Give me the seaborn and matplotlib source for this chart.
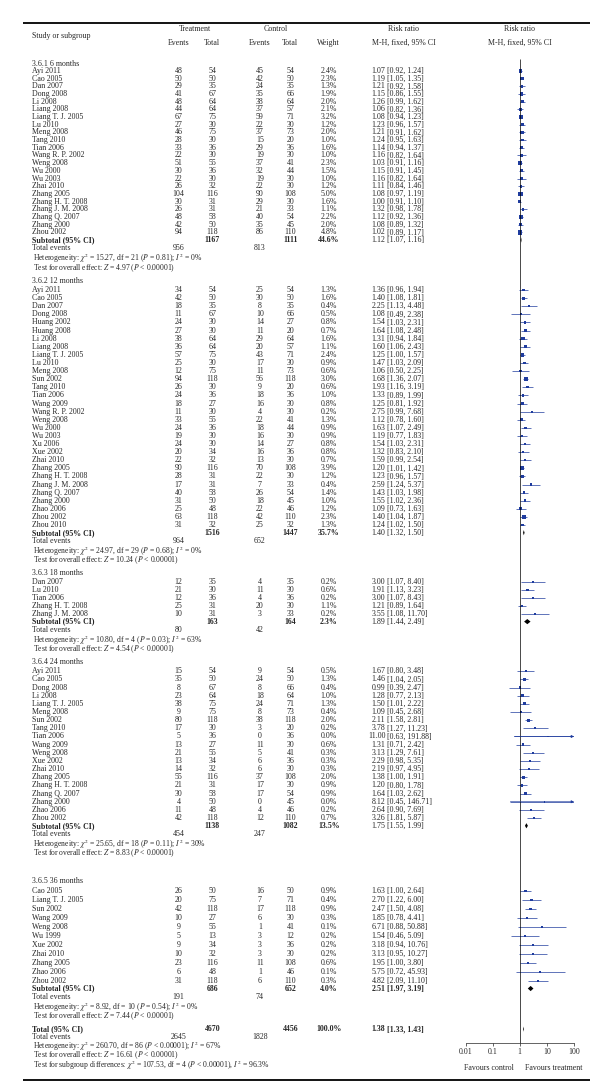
import numpy as np
import pandas as pd
import matplotlib
matplotlib.use("Agg")
import matplotlib.pyplot as plt
from matplotlib.ticker import NullLocator
import seaborn as sns

# ---------------- data ----------------
# 3.6.1 6 months
study_6 = ["Ayi 2011", "Cao 2005", "Dan 2007", "Dong 2008", "Li 2008", "Liang 2008",
           "Liang T. J. 2005", "Lu 2010", "Meng 2008", "Tang 2010", "Tian 2006",
           "Wang R. P. 2002", "Weng 2008", "Wu 2000", "Wu 2003", "Zhai 2010",
           "Zhang 2005", "Zhang H. T. 2008", "Zhang J. M. 2008", "Zhang Q. 2007",
           "Zhang 2000", "Zhou 2002"]
ev_t_6 = [48, 50, 29, 41, 48, 44, 67, 27, 46, 28, 33, 22, 51, 30, 22, 26, 104, 30, 26, 48, 42, 94]
n_t_6 = [54, 50, 35, 67, 64, 64, 75, 30, 75, 30, 36, 30, 55, 36, 30, 32, 116, 31, 31, 58, 50, 118]
ev_c_6 = [45, 42, 24, 35, 38, 37, 59, 22, 37, 15, 29, 19, 37, 32, 19, 22, 90, 29, 21, 40, 35, 86]
n_c_6 = [54, 50, 35, 66, 64, 57, 71, 30, 73, 20, 36, 30, 41, 44, 30, 30, 108, 30, 33, 54, 45, 110]
w_6 = [2.4, 2.3, 1.3, 1.9, 2.0, 2.1, 3.2, 1.2, 2.0, 1.0, 1.6, 1.0, 2.3, 1.5, 1.0, 1.2, 5.0, 1.6, 1.1, 2.2, 2.0, 4.8]
rr_6 = [1.07, 1.19, 1.21, 1.15, 1.26, 1.06, 1.08, 1.23, 1.21, 1.24, 1.14, 1.16, 1.03, 1.15, 1.16, 1.11, 1.08, 1.00, 1.32, 1.12, 1.08, 1.02]
lo_6 = [0.92, 1.05, 0.92, 0.86, 0.99, 0.82, 0.94, 0.96, 0.91, 0.95, 0.94, 0.82, 0.91, 0.91, 0.82, 0.84, 0.97, 0.91, 0.98, 0.92, 0.89, 0.89]
hi_6 = [1.24, 1.35, 1.58, 1.55, 1.62, 1.36, 1.23, 1.57, 1.62, 1.63, 1.37, 1.64, 1.16, 1.45, 1.64, 1.46, 1.19, 1.10, 1.78, 1.36, 1.32, 1.17]

# 3.6.2 12 months
study_12 = ["Ayi 2011", "Cao 2005", "Dan 2007", "Dong 2008", "Huang 2002", "Huang 2008",
            "Li 2008", "Liang 2008", "Liang T. J. 2005", "Lu 2010", "Meng 2008", "Sun 2002",
            "Tang 2010", "Tian 2006", "Wang 2009", "Wang R. P. 2002", "Weng 2008", "Wu 2000",
            "Wu 2003", "Xu 2006", "Xue 2002", "Zhai 2010", "Zhang 2005", "Zhang H. T. 2008",
            "Zhang J. M. 2008", "Zhang Q. 2007", "Zhang 2000", "Zhao 2006", "Zhou 2002", "Zhou 2010"]
ev_t_12 = [34, 42, 18, 11, 24, 27, 38, 36, 57, 25, 12, 94, 26, 24, 18, 11, 33, 24, 19, 24, 20, 22, 90, 28, 17, 40, 31, 25, 63, 31]
n_t_12 = [54, 50, 35, 67, 30, 30, 64, 64, 75, 30, 75, 118, 30, 36, 27, 30, 55, 36, 30, 30, 34, 32, 116, 31, 31, 58, 50, 48, 118, 32]
ev_c_12 = [25, 30, 8, 10, 14, 11, 29, 20, 43, 17, 11, 56, 9, 18, 16, 4, 22, 18, 16, 14, 16, 13, 70, 22, 7, 26, 18, 22, 42, 25]
n_c_12 = [54, 50, 35, 66, 27, 20, 64, 57, 71, 30, 73, 118, 20, 36, 30, 30, 41, 44, 30, 27, 36, 30, 108, 30, 33, 54, 45, 46, 110, 32]
w_12 = [1.3, 1.6, 0.4, 0.5, 0.8, 0.7, 1.6, 1.1, 2.4, 0.9, 0.6, 3.0, 0.6, 1.0, 0.8, 0.2, 1.3, 0.9, 0.9, 0.8, 0.8, 0.7, 3.9, 1.2, 0.4, 1.4, 1.0, 1.2, 2.3, 1.3]
rr_12 = [1.36, 1.40, 2.25, 1.08, 1.54, 1.64, 1.31, 1.60, 1.25, 1.47, 1.06, 1.68, 1.93, 1.33, 1.25, 2.75, 1.12, 1.63, 1.19, 1.54, 1.32, 1.59, 1.20, 1.23, 2.59, 1.43, 1.55, 1.09, 1.40, 1.24]
lo_12 = [0.96, 1.08, 1.13, 0.49, 1.03, 1.08, 0.94, 1.06, 1.00, 1.03, 0.50, 1.36, 1.16, 0.89, 0.81, 0.99, 0.78, 1.07, 0.77, 1.03, 0.83, 0.99, 1.01, 0.96, 1.24, 1.03, 1.02, 0.73, 1.04, 1.02]
hi_12 = [1.94, 1.81, 4.48, 2.38, 2.31, 2.48, 1.84, 2.43, 1.57, 2.09, 2.25, 2.07, 3.19, 1.99, 1.92, 7.68, 1.60, 2.49, 1.83, 2.31, 2.10, 2.54, 1.42, 1.57, 5.37, 1.98, 2.36, 1.63, 1.87, 1.50]

# 3.6.3 18 months
study_18 = ["Dan 2007", "Lu 2010", "Tian 2006", "Zhang H. T. 2008", "Zhang J. M. 2008"]
ev_t_18 = [12, 21, 12, 25, 10]
n_t_18 = [35, 30, 36, 31, 31]
ev_c_18 = [4, 11, 4, 20, 3]
n_c_18 = [35, 30, 36, 30, 33]
w_18 = [0.2, 0.6, 0.2, 1.1, 0.2]
rr_18 = [3.00, 1.91, 3.00, 1.21, 3.55]
lo_18 = [1.07, 1.13, 1.07, 0.89, 1.08]
hi_18 = [8.40, 3.23, 8.43, 1.64, 11.70]

# 3.6.4 24 months
study_24 = ["Ayi 2011", "Cao 2005", "Dong 2008", "Li 2008", "Liang T. J. 2005", "Meng 2008",
            "Sun 2002", "Tang 2010", "Tian 2006", "Wang 2009", "Weng 2008", "Xue 2002",
            "Zhai 2010", "Zhang 2005", "Zhang H. T. 2008", "Zhang Q. 2007", "Zhang 2000",
            "Zhao 2006", "Zhou 2002"]
ev_t_24 = [15, 35, 8, 23, 38, 9, 80, 17, 5, 13, 21, 13, 14, 55, 21, 30, 4, 11, 42]
n_t_24 = [54, 50, 67, 64, 75, 75, 118, 30, 36, 27, 55, 34, 32, 116, 31, 58, 50, 48, 118]
ev_c_24 = [9, 24, 8, 18, 24, 8, 38, 3, 0, 11, 5, 6, 6, 37, 17, 17, 0, 4, 12]
n_c_24 = [54, 50, 66, 64, 71, 73, 118, 20, 36, 30, 41, 36, 30, 108, 30, 54, 45, 46, 110]
w_24 = [0.5, 1.3, 0.4, 1.0, 1.3, 0.4, 2.0, 0.2, 0.0, 0.6, 0.3, 0.3, 0.3, 2.0, 0.9, 0.9, 0.0, 0.2, 0.7]
rr_24 = [1.67, 1.46, 0.99, 1.28, 1.50, 1.09, 2.11, 3.78, 11.00, 1.31, 3.13, 2.29, 2.19, 1.38, 1.20, 1.64, 8.12, 2.64, 3.26]
lo_24 = [0.80, 1.04, 0.39, 0.77, 1.01, 0.45, 1.58, 1.27, 0.63, 0.71, 1.29, 0.98, 0.97, 1.00, 0.80, 1.03, 0.45, 0.90, 1.81]
hi_24 = [3.48, 2.05, 2.47, 2.13, 2.22, 2.68, 2.81, 11.23, 191.88, 2.42, 7.61, 5.35, 4.95, 1.91, 1.78, 2.62, 146.71, 7.69, 5.87]

# 3.6.5 36 months
study_36 = ["Cao 2005", "Liang T. J. 2005", "Sun 2002", "Wang 2009", "Weng 2008", "Wu 1999",
            "Xue 2002", "Zhai 2010", "Zhang 2005", "Zhao 2006", "Zhou 2002"]
ev_t_36 = [26, 20, 42, 10, 9, 5, 9, 10, 23, 6, 31]
n_t_36 = [50, 75, 118, 27, 55, 13, 34, 32, 116, 48, 118]
ev_c_36 = [16, 7, 17, 6, 1, 3, 3, 3, 11, 1, 6]
n_c_36 = [50, 71, 118, 30, 41, 12, 36, 30, 108, 46, 110]
w_36 = [0.9, 0.4, 0.9, 0.3, 0.1, 0.2, 0.2, 0.2, 0.6, 0.1, 0.3]
rr_36 = [1.63, 2.70, 2.47, 1.85, 6.71, 1.54, 3.18, 3.13, 1.95, 5.75, 4.82]
lo_36 = [1.00, 1.22, 1.50, 0.78, 0.88, 0.46, 0.94, 0.95, 1.00, 0.72, 2.09]
hi_36 = [2.64, 6.00, 4.08, 4.41, 50.88, 5.09, 10.76, 10.27, 3.80, 45.93, 11.10]

# subgroup summaries
sub_title = ["3.6.1 6 months", "3.6.2 12 months", "3.6.3 18 months", "3.6.4 24 months", "3.6.5 36 months"]
sub_n_t = [1167, 1516, 163, 1138, 686]
sub_n_c = [1111, 1447, 164, 1082, 652]
sub_w = [44.6, 35.7, 2.3, 13.5, 4.0]
sub_rr = [1.12, 1.40, 1.89, 1.75, 2.51]
sub_lo = [1.07, 1.32, 1.44, 1.55, 1.97]
sub_hi = [1.16, 1.50, 2.49, 1.99, 3.19]
sub_ev_t = [956, 964, 80, 454, 191]
sub_ev_c = [813, 652, 42, 247, 74]
het_chi = ["15.27", "24.97", "10.80", "25.65", "8.92"]
het_df = [21, 29, 4, 18, 10]
het_p = ["= 0.81", "= 0.68", "= 0.03", "= 0.11", "= 0.54"]
het_i2 = [0, 0, 63, 30, 0]
z_val = ["4.97", "10.24", "4.54", "8.83", "7.44"]

# overall
tot_n = [4670, 4456]
tot_ev = [2645, 1828]
tot_rr, tot_lo, tot_hi = 1.38, 1.33, 1.43

# ---------------- layout (y in scaled row units) ----------------
S = 1.13
W, H = 600, 1084
sec_head = [56.5, 248.3, 507.3, 586.0, 780.0]
sec_first = [62.8, 256.7, 515.3, 594.0, 788.3]
sec_step = [6.8, 7.17, 7.0, 7.22, 7.97]

sns.set_style("white")
plt.rcParams['font.family'] = ['Liberation Serif', 'DejaVu Serif']
plt.rcParams['mathtext.fontset'] = 'stix'
FS = 5.7
FS_SMALL = 5.5
SQ = '#1f3c9e'

fig = plt.figure(figsize=(W / 100, H / 100), dpi=100)
tab = fig.add_axes([0, 0, 1, 1])
tab.set_xlim(0, W / S)
tab.set_ylim(H / S, 0)
tab.axis('off')

fp = fig.add_axes([412 * S / W, 0, 96 * S / W, 1])
fp.set_facecolor('none')
fp.set_xscale('log')

X_NAME, X_ET, X_NT, X_EC, X_NC, X_W, X_RR = 28, 158, 188, 230, 257, 291, 341


def txt(x, y, s, ha='center', bold=False, size=FS):
    tab.text(x, y, s, ha=ha, va='center', fontsize=size,
             fontweight='bold' if bold else 'normal')


def rr_text(y, rr, lo, hi, bold=False):
    txt(X_RR, y, f"{rr:.2f}", ha='right', bold=bold)
    txt(X_RR + 1.5, y, f"[{lo:.2f}, {hi:.2f}]", ha='left', bold=bold)


# header
tab.hlines(20, 20, 522, color='black', lw=1.3)
tab.hlines(956, 20, 522, color='black', lw=1.3)
txt(X_NAME, 32, "Study or subgroup", ha='left')
txt(173, 26, "Treatment")
txt(244, 26, "Control")
txt(357, 26, "Risk ratio")
for x, s in [(X_ET, "Events"), (X_NT, "Total"), (X_EC, "Events"), (X_NC, "Total"), (X_W, "Weight")]:
    txt(x, 38, s)
txt(357, 38, "M-H, fixed, 95% CI")

groups = [
    (study_6, ev_t_6, n_t_6, ev_c_6, n_c_6, w_6, rr_6, lo_6, hi_6),
    (study_12, ev_t_12, n_t_12, ev_c_12, n_c_12, w_12, rr_12, lo_12, hi_12),
    (study_18, ev_t_18, n_t_18, ev_c_18, n_c_18, w_18, rr_18, lo_18, hi_18),
    (study_24, ev_t_24, n_t_24, ev_c_24, n_c_24, w_24, rr_24, lo_24, hi_24),
    (study_36, ev_t_36, n_t_36, ev_c_36, n_c_36, w_36, rr_36, lo_36, hi_36),
]

rows = []
for g, (names, et, nt, ec, nc, w, rr, lo, hi) in enumerate(groups):
    txt(X_NAME, sec_head[g], sub_title[g], ha='left')
    for i in range(len(names)):
        y = sec_first[g] + i * sec_step[g]
        txt(X_NAME, y, names[i], ha='left')
        txt(X_ET, y, str(et[i]))
        txt(X_NT, y, str(nt[i]))
        txt(X_EC, y, str(ec[i]))
        txt(X_NC, y, str(nc[i]))
        txt(X_W, y, f"{w[i]:.1f}%")
        rr_text(y, rr[i], lo[i], hi[i])
        rows.append({'rr': rr[i], 'lo': lo[i], 'hi': hi[i], 'w': w[i], 'y': y})
    last = sec_first[g] + (len(names) - 1) * sec_step[g]
    ys = last + 6.8
    txt(X_NAME, ys, "Subtotal (95% CI)", ha='left', bold=True)
    txt(X_NT, ys, str(sub_n_t[g]), bold=True)
    txt(X_NC, ys, str(sub_n_c[g]), bold=True)
    txt(X_W, ys, f"{sub_w[g]:.1f}%", bold=True)
    rr_text(ys, sub_rr[g], sub_lo[g], sub_hi[g], bold=(g == 4))
    fp.fill([sub_lo[g], sub_rr[g], sub_hi[g], sub_rr[g]], [ys, ys - 2.3, ys, ys + 2.3],
            color='black', lw=0)
    txt(X_NAME, last + 14.2, "Total events", ha='left')
    txt(X_ET, last + 14.2, str(sub_ev_t[g]))
    txt(X_EC, last + 14.2, str(sub_ev_c[g]))
    txt(X_NAME + 1.5, last + 23.2,
        rf"Heterogeneity: $\chi^2$ = {het_chi[g]}, df = {het_df[g]} ($P$ {het_p[g]}); $I^2$ = {het_i2[g]}%",
        ha='left', size=FS_SMALL)
    txt(X_NAME + 1.5, last + 31.3,
        rf"Test for overall effect: $Z$ = {z_val[g]} ($P$ < 0.00001)", ha='left', size=FS_SMALL)

# overall total
yt = 910.7
txt(X_NAME, yt, "Total (95% CI)", ha='left', bold=True)
txt(X_NT, yt, str(tot_n[0]), bold=True)
txt(X_NC, yt, str(tot_n[1]), bold=True)
txt(X_W, yt, "100.0%", bold=True)
rr_text(yt, tot_rr, tot_lo, tot_hi, bold=True)
fp.fill([tot_lo, tot_rr, tot_hi, tot_rr], [yt, yt - 2.3, yt, yt + 2.3], color='black', lw=0)
txt(X_NAME, 917.3, "Total events", ha='left')
txt(X_ET, 917.3, str(tot_ev[0]))
txt(X_EC, 917.3, str(tot_ev[1]))
txt(X_NAME + 1.5, 925.8,
    r"Heterogeneity: $\chi^2$ = 260.70, df = 86 ($P$ < 0.00001); $I^2$ = 67%", ha='left', size=FS_SMALL)
txt(X_NAME + 1.5, 933.9, r"Test for overall effect: $Z$ = 16.61 ($P$ < 0.00001)", ha='left',
    size=FS_SMALL)
txt(X_NAME + 1.5, 942.6,
    r"Test for subgroup differences: $\chi^2$ = 107.53, df = 4 ($P$ < 0.00001), $I^2$ = 96.3%",
    ha='left', size=FS_SMALL)

# ---------------- forest panel ----------------
df = pd.DataFrame(rows)
df['hi_clip'] = df['hi'].clip(upper=100)
fp.hlines(df['y'], df['lo'], df['hi_clip'], color=SQ, lw=0.5)
for _, r in df[df['hi'] > 100].iterrows():
    fp.annotate('', xy=(100, r['y']), xytext=(r['lo'], r['y']),
                arrowprops=dict(arrowstyle='-|>', color=SQ, lw=0.5, mutation_scale=4,
                                shrinkA=0, shrinkB=0))
sns.scatterplot(data=df, x='rr', y='y', size='w', sizes=(1.5, 12), size_norm=(0, 5),
                marker='s', color=SQ, edgecolor='none', linewidth=0, legend=False, ax=fp)

AXIS_Y = 923.3
fp.vlines(1, 52, AXIS_Y, color='black', lw=0.5)
fp.set_xlim(0.01, 100)
fp.set_ylim(H / S, 0)
fp.set_xlabel('')
fp.set_ylabel('')
fp.set_yticks([])
for side in ['top', 'left', 'right']:
    fp.spines[side].set_visible(False)
fp.spines['bottom'].set_position(('data', AXIS_Y))
fp.spines['bottom'].set_linewidth(0.5)
fp.set_xticks([0.01, 0.1, 1, 10, 100])
fp.set_xticklabels(['0.01', '0.1', '1', '10', '100'])
fp.xaxis.set_minor_locator(NullLocator())
fp.tick_params(axis='x', labelsize=FS, length=2, width=0.5, pad=1.5, direction='out',
               bottom=True)
fp.text(1, 26, "Risk ratio", ha='center', va='center', fontsize=FS)
fp.text(1, 38, "M-H, fixed, 95% CI", ha='center', va='center', fontsize=FS)
fp.text(0.6, 945, "Favours control", ha='right', va='center', fontsize=FS)
fp.text(1.6, 945, "Favours treatment", ha='left', va='center', fontsize=FS)

fig.savefig('out.png', dpi=100)
